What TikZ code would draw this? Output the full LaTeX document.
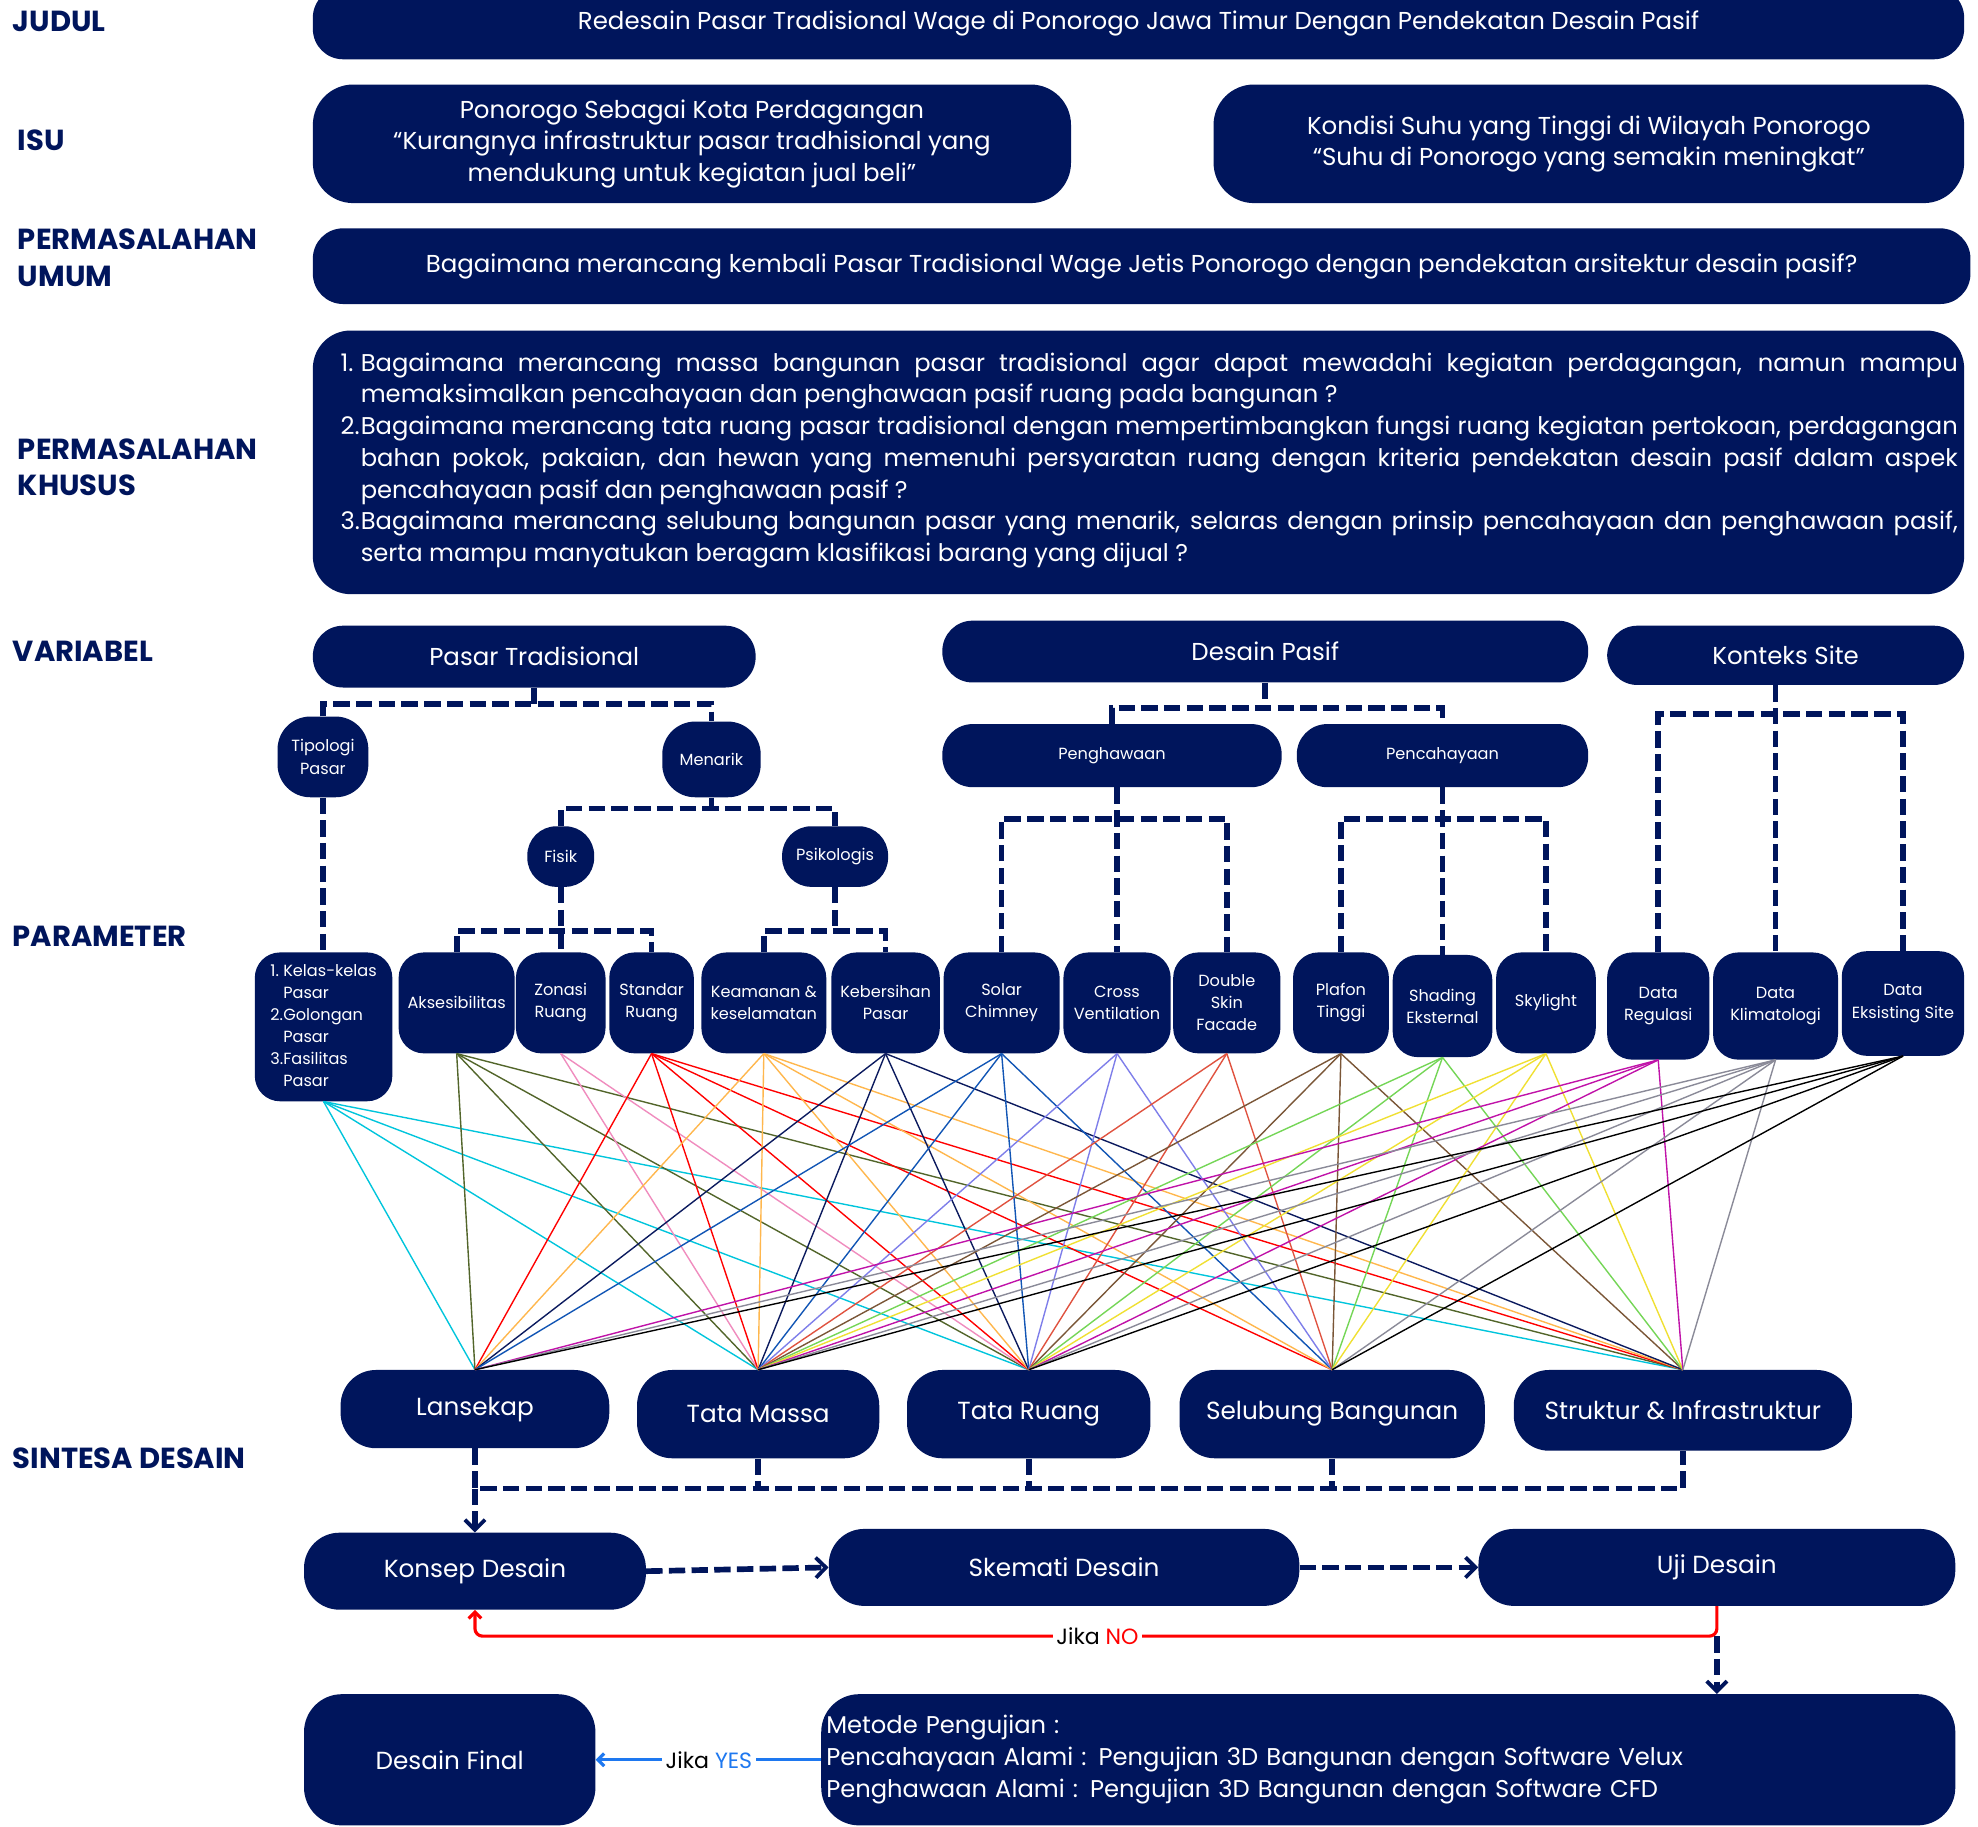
\documentclass[tikz,border=0pt]{standalone}
\usepackage{fontspec}
\setmainfont{Poppins}
\usetikzlibrary{arrows.meta, positioning}
\definecolor{navy}{HTML}{00155C}
\definecolor{yesBlue}{HTML}{1E78F0}
\definecolor{lnCyan}{HTML}{00C5DC}
\definecolor{lnOlive}{HTML}{52652A}
\definecolor{lnPink}{HTML}{F08CBE}
\definecolor{lnRed}{HTML}{FF0000}
\definecolor{lnOrange}{HTML}{FFB74D}
\definecolor{lnNavy}{HTML}{0B1A5E}
\definecolor{lnBlue}{HTML}{1155B5}
\definecolor{lnPeri}{HTML}{7E7EEA}
\definecolor{lnTomato}{HTML}{E0523F}
\definecolor{lnBrown}{HTML}{7A5637}
\definecolor{lnGreen}{HTML}{74D656}
\definecolor{lnYellow}{HTML}{F0E032}
\definecolor{lnMagenta}{HTML}{C012A8}
\definecolor{lnGrey}{HTML}{8A8A98}
\definecolor{lnBlack}{HTML}{000000}
\tikzset{
	box/.style={fill=navy, text=white, rounded corners=24pt, align=center, inner sep=2pt,
		font=\fontsize{19.4}{25}\selectfont},
	wh/.style 2 args={minimum width=#1pt, minimum height=#2pt},
	param/.style={box, rounded corners=20pt, font=\fontsize{12.8}{17.5}\selectfont},
	synth/.style={box, rounded corners=28pt, font=\fontsize{19.6}{22}\selectfont},
	lbl/.style={anchor=west, text=navy, align=left, inner sep=0pt,
		font=\bfseries\fontsize{23}{29}\selectfont},
	dashtree/.style={draw=navy, line width=4.5pt, dash pattern=on 13pt off 5pt},
	flow/.style={dashtree, -{Straight Barb[length=8pt, width=16pt, line width=3pt]}},
	link/.style={line width=1.1pt},
	jika/.style={fill=white, inner sep=3pt, font=\fontsize{17.5}{20}\selectfont},
}

\begin{document}
\begin{tikzpicture}[x=1pt, y=-1pt]
	\useasboundingbox (0,0) rectangle (1568,1448);
	\fill[white] (0,0) rectangle (1568,1448);

	% row labels
	\node[lbl] (lblJudul) at (10,17) {JUDUL};
	\node[lbl] (lblIsu) at (14,111) {ISU};
	\node[lbl] (lblUmum) at (14,204.5) {PERMASALAHAN\\UMUM};
	\node[lbl] (lblKhusus) at (14,370.5) {PERMASALAHAN\\KHUSUS};
	\node[lbl] (lblVariabel) at (10,516) {VARIABEL};
	\node[lbl] (lblParameter) at (10,742) {PARAMETER};
	\node[lbl] (lblSintesa) at (10,1156) {SINTESA DESAIN};

	% judul, isu, permasalahan
	\node[box, wh={1309}{57}] (judul) at (902.5,18.5)
		{Redesain Pasar Tradisional Wage di Ponorogo Jawa Timur Dengan Pendekatan Desain Pasif};
	\node[box, wh={601}{94}, rounded corners=32pt] (isuKota) at (548.5,114)
		{Ponorogo Sebagai Kota Perdagangan\\“Kurangnya infrastruktur pasar tradhisional yang\\mendukung untuk kegiatan jual beli”};
	\node[box, wh={595}{94}, rounded corners=32pt] (isuSuhu) at (1259.5,114)
		{Kondisi Suhu yang Tinggi di Wilayah Ponorogo\\“Suhu di Ponorogo yang semakin meningkat”};
	\node[box, wh={1314}{60}] (umum) at (905,211)
		{Bagaimana merancang kembali Pasar Tradisional Wage Jetis Ponorogo dengan pendekatan arsitektur desain pasif?};
	\node[box, wh={1309}{209}, rounded corners=30pt] (khusus) at (902.5,366.5) {};
	\node[text=white, text width=1282pt, align=justify, inner sep=0pt,
		font=\fontsize{19.2}{25.2}\selectfont] (khususTxt) at (911,365)
		{\noindent\hangindent=16pt\hangafter=1\makebox[16pt][l]{1.}Bagaimana merancang massa bangunan pasar tradisional agar dapat mewadahi kegiatan perdagangan, namun mampu\linebreak memaksimalkan pencahayaan dan penghawaan pasif ruang pada bangunan ?\par
		\noindent\hangindent=16pt\hangafter=1\makebox[16pt][l]{2.}Bagaimana merancang tata ruang pasar tradisional dengan mempertimbangkan fungsi ruang kegiatan pertokoan, perdagangan\linebreak bahan pokok, pakaian, dan hewan yang memenuhi persyaratan ruang dengan kriteria pendekatan desain pasif dalam aspek\linebreak pencahayaan pasif dan penghawaan pasif ?\par
		\noindent\hangindent=16pt\hangafter=1\makebox[16pt][l]{3.}Bagaimana merancang selubung bangunan pasar yang menarik, selaras dengan prinsip pencahayaan dan penghawaan pasif,\linebreak serta mampu manyatukan beragam klasifikasi barang yang dijual ?\par};

	% variabel
	\node[box, wh={351}{49}] (pasar) at (423.5,520.5) {Pasar Tradisional};
	\node[box, wh={512}{49}] (pasif) at (1003,516.5) {Desain Pasif};
	\node[box, wh={283}{47}] (konteks) at (1415.5,519.5) {Konteks Site};
	\node[param, wh={72}{64}, rounded corners=26pt] (tipologi) at (256,600) {Tipologi\\Pasar};
	\node[param, wh={78}{60}, rounded corners=26pt] (menarik) at (564,602) {Menarik};
	\node[param, wh={53}{48}, rounded corners=23pt] (fisik) at (444.5,679) {Fisik};
	\node[param, wh={84}{48}, rounded corners=23pt] (psikologis) at (662,679) {Psikologis};
	\node[param, wh={269}{50}, rounded corners=24pt] (penghawaan) at (881.5,599) {Penghawaan};
	\node[param, wh={231}{50}, rounded corners=24pt] (pencahayaan) at (1143.5,599) {Pencahayaan};

	% parameter
	\node[param, wh={109}{118}] (kelas) at (256.5,814)
		{\begin{tabular}{@{}l@{}l@{}}1.&Kelas-kelas\\&Pasar\\2.&Golongan\\&Pasar\\3.&Fasilitas\\&Pasar\end{tabular}};
	\node[param, wh={92}{80}] (akses) at (362,795) {Aksesibilitas};
	\node[param, wh={71}{80}] (zonasi) at (444.5,795) {Zonasi\\Ruang};
	\node[param, wh={67}{80}] (standar) at (516.5,795) {Standar\\Ruang};
	\node[param, wh={99}{80}] (keamanan) at (605.5,795) {Keamanan \&\\keselamatan};
	\node[param, wh={86}{80}] (kebersihan) at (702,795) {Kebersihan\\Pasar};
	\node[param, wh={92}{80}] (solar) at (794,795) {Solar\\Chimney};
	\node[param, wh={85}{80}] (cross) at (885.5,795) {Cross\\Ventilation};
	\node[param, wh={85}{80}] (dsf) at (972.5,795) {Double\\Skin\\Facade};
	\node[param, wh={76}{80}] (plafon) at (1063,795) {Plafon\\Tinggi};
	\node[param, wh={79}{81}] (shading) at (1143.5,797.5) {Shading\\Eksternal};
	\node[param, wh={79}{80}] (skylight) at (1225.5,795) {Skylight};
	\node[param, wh={81}{85}] (regulasi) at (1314.5,797.5) {Data\\Regulasi};
	\node[param, wh={99}{85}] (klimatologi) at (1407.5,797.5) {Data\\Klimatologi};
	\node[param, wh={97}{83}] (eksisting) at (1508.5,795.5) {Data\\Eksisting Site};

	% sintesa desain
	\node[synth, wh={213}{62}] (lansekap) at (376.5,1117) {Lansekap};
	\node[synth, wh={192}{70}] (massa) at (601,1121) {Tata Massa};
	\node[synth, wh={193}{70}] (ruang) at (815.5,1121) {Tata Ruang};
	\node[synth, wh={242}{70}] (selubung) at (1056,1121) {Selubung Bangunan};
	\node[synth, wh={268}{64}] (struktur) at (1334,1118) {Struktur \& Infrastruktur};

	% alur desain
	\node[synth, wh={271}{61}] (konsep) at (376.5,1245.5) {Konsep Desain};
	\node[synth, wh={373}{61}] (skemati) at (843.5,1242.5) {Skemati Desain};
	\node[synth, wh={378}{61}] (uji) at (1361,1242.5) {Uji Desain};
	\node[synth, wh={231}{104}, rounded corners=30pt] (final) at (356.5,1395) {Desain Final};
	\node[synth, wh={899}{104}, rounded corners=30pt, align=left, text width=891pt,
		font=\fontsize{19.2}{25.5}\selectfont] (metode) at (1100.5,1395)
		{Metode Pengujian :\\Pencahayaan Alami : Pengujian 3D Bangunan dengan Software Velux\\Penghawaan Alami : Pengujian 3D Bangunan dengan Software CFD};

	% pohon variabel -> parameter
	\coordinate (pasarBar) at (423.5,558);
	\draw[dashtree] (pasar.south) -- (pasarBar);
	\draw[dashtree] (tipologi.north) |- (pasarBar) -| (menarik.north);
	\draw[dashtree] (tipologi.south) -- (tipologi.south |- kelas.north);
	\coordinate (menarikBar) at (564,641);
	\draw[dashtree] (menarik.south) -- (menarikBar);
	\draw[dashtree] (fisik.north) |- (menarikBar) -| (psikologis.north);
	\coordinate (fisikBar) at (444.5,738);
	\draw[dashtree] (fisik.south) -- (fisikBar) -- (zonasi.north);
	\draw[dashtree] (akses.north) |- (fisikBar) -| (standar.north);
	\coordinate (psikoBar) at (662,738);
	\draw[dashtree] (psikologis.south) -- (psikoBar);
	\draw[dashtree] (keamanan.north) |- (psikoBar) -| (kebersihan.north);
	\coordinate (pasifBar) at (1003,561);
	\draw[dashtree] (pasif.south) -- (pasifBar);
	\draw[dashtree] (penghawaan.north) |- (pasifBar) -| (pencahayaan.north);
	\coordinate (pengBar) at (885.5,649);
	\draw[dashtree] (cross.north |- penghawaan.south) -- (cross.north);
	\draw[dashtree] (solar.north) |- (pengBar) -| (dsf.north);
	\coordinate (cahayaBar) at (1143.5,649);
	\draw[dashtree] (pencahayaan.south) -- (shading.north);
	\draw[dashtree] (plafon.north) |- (cahayaBar) -| (skylight.north);
	\coordinate (kontBar) at (1407.5,566);
	\draw[dashtree] (klimatologi.north |- konteks.south) -- (klimatologi.north);
	\draw[dashtree] (regulasi.north) |- (kontBar) -| (eksisting.north);

	% hubungan parameter -> sintesa
	\foreach \p/\c/\ts in {
		kelas/lnCyan/{lansekap,massa,ruang,struktur},
		akses/lnOlive/{lansekap,massa,ruang,struktur},
		zonasi/lnPink/{massa,ruang},
		standar/lnRed/{lansekap,massa,ruang,selubung,struktur},
		keamanan/lnOrange/{lansekap,massa,ruang,selubung,struktur},
		kebersihan/lnNavy/{lansekap,massa,ruang,struktur},
		solar/lnBlue/{lansekap,massa,ruang,selubung},
		cross/lnPeri/{massa,ruang,selubung},
		dsf/lnTomato/{massa,ruang,selubung},
		plafon/lnBrown/{massa,ruang,selubung,struktur},
		shading/lnGreen/{massa,ruang,selubung,struktur},
		skylight/lnYellow/{massa,ruang,selubung,struktur},
		regulasi/lnMagenta/{lansekap,massa,ruang,struktur},
		klimatologi/lnGrey/{lansekap,massa,ruang,selubung,struktur},
		eksisting/lnBlack/{lansekap,massa,ruang,selubung}}
		{\foreach \t in \ts {\draw[link, draw=\c] (\p.south) -- (\t.north);}}

	% sintesa -> konsep -> skemati -> uji
	\coordinate (sintBar) at (376.5,1180);
	\draw[dashtree] (lansekap.south) -- (sintBar) -| (struktur.south);
	\foreach \s in {massa, ruang, selubung}
		{\draw[dashtree] (\s.south) -- (\s.south |- sintBar);}
	\draw[flow] (sintBar) -- (konsep.north);
	\draw[flow] (konsep.east) -- (skemati.west);
	\draw[flow] (skemati.east) -- (uji.west);
	\coordinate (ujiTurn) at (1361,1297);
	\draw[flow] (ujiTurn) -- (uji.south |- metode.north);
	\draw[lnRed, line width=2.5pt, rounded corners=6pt, -{Straight Barb[length=5pt, width=10pt]}]
		(uji.south) -- (ujiTurn) -| (konsep.south);
	\node[jika] (jikaNo) at (870,1297) {Jika \textcolor{lnRed}{NO}};
	\draw[yesBlue, line width=2.5pt, -{Straight Barb[length=5pt, width=10pt]}] (metode.west) -- (final.east);
	\node[jika] (jikaYes) at (562,1395) {Jika \textcolor{yesBlue}{YES}};
\end{tikzpicture}
\end{document}
